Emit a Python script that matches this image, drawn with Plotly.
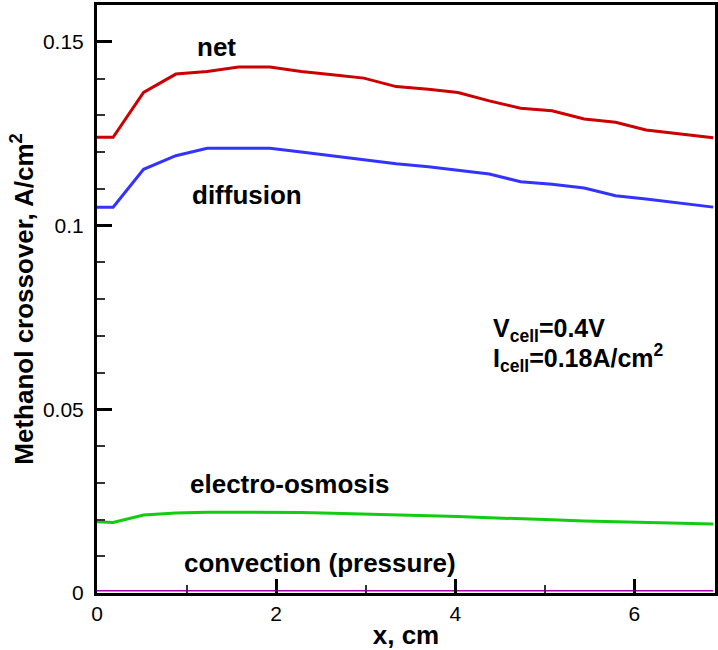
import plotly.graph_objects as go

# positions along the channel (cm)
x_cm = [0.0, 0.18, 0.52, 0.88, 1.23, 1.58, 1.93, 2.28, 2.63, 2.98, 3.34,
        3.70, 4.03, 4.38, 4.73, 5.08, 5.44, 5.79, 6.13, 6.51, 6.88]

net = [0.1240, 0.1240, 0.1362, 0.1412, 0.1419, 0.1431, 0.1431, 0.1419, 0.1410,
       0.1401, 0.1378, 0.1371, 0.1362, 0.1339, 0.1319, 0.1312, 0.1290, 0.1281,
       0.1260, 0.1249, 0.1239]

diffusion = [0.1050, 0.1050, 0.1153, 0.1190, 0.1210, 0.1210, 0.1210, 0.1200,
             0.1189, 0.1180, 0.1168, 0.1160, 0.1151, 0.1140, 0.1119, 0.1112,
             0.1102, 0.1081, 0.1072, 0.1061, 0.1050]

electro_osmosis = [0.0194, 0.0192, 0.0212, 0.0218, 0.0220, 0.0220, 0.0220,
                   0.0219, 0.0217, 0.0215, 0.0213, 0.0211, 0.0208, 0.0205,
                   0.0201, 0.0199, 0.0196, 0.0194, 0.0191, 0.0190, 0.0188]

convection = [0.0006, 0.0006, 0.0006, 0.0006, 0.0006, 0.0006, 0.0006, 0.0006,
              0.0006, 0.0006, 0.0006, 0.0006, 0.0006, 0.0006, 0.0006, 0.0006,
              0.0006, 0.0006, 0.0006, 0.0006, 0.0006]

series_names = ["net", "diffusion", "electro-osmosis", "convection (pressure)"]
series_values = [net, diffusion, electro_osmosis, convection]
series_colors = ["#cc0000", "#3333ff", "#11cc11", "#aa00aa"]
series_widths = [3, 3, 3, 1.5]

FONT = "Liberation Sans, Arial, sans-serif"

fig = go.Figure()
for name, vals, col, w in zip(series_names, series_values, series_colors, series_widths):
    fig.add_trace(go.Scatter(x=x_cm, y=vals, mode="lines", name=name,
                             line=dict(color=col, width=w), showlegend=False))

labels = [
    ("<b>net</b>", 1.333, 0.1486),
    ("<b>diffusion</b>", 1.672, 0.1083),
    ("<b>electro-osmosis</b>", 2.144, 0.0297),
    ("<b>convection (pressure)</b>", 2.494, 0.0082),
]
for txt, xx, yy in labels:
    fig.add_annotation(x=xx, y=yy, text=txt, showarrow=False, xanchor="center",
                       yanchor="middle", font=dict(family=FONT, size=26, color="black"))

fig.add_annotation(x=4.4, y=0.0716, text="<b>V<sub>cell</sub>=0.4V</b>", showarrow=False,
                   xanchor="left", yanchor="middle", font=dict(family=FONT, size=25, color="black"))
fig.add_annotation(x=4.4, y=0.0640, text="<b>I<sub>cell</sub>=0.18A/cm<sup>2</sup></b>", showarrow=False,
                   xanchor="left", yanchor="middle", font=dict(family=FONT, size=25, color="black"))

fig.update_layout(
    width=718, height=650,
    margin=dict(l=97, r=0, t=5, b=57),
    paper_bgcolor="white", plot_bgcolor="white",
    font=dict(family=FONT, color="black"),
)
fig.update_xaxes(
    range=[0, 6.9], dtick=2, tick0=0, tickmode="linear", ticks="inside", ticklen=14, tickwidth=3,
    tickcolor="black", showgrid=False, zeroline=False,
    showline=True, linecolor="black", linewidth=3, mirror=True,
    tickfont=dict(family=FONT, size=21, color="black"),
    minor=dict(dtick=1, tick0=0, tickmode="linear", ticks="inside", ticklen=8, tickwidth=2, tickcolor="#333333", showgrid=False),
    title=dict(text="<b>x, cm</b>", font=dict(family=FONT, size=26, color="black"), standoff=2),
)
fig.update_yaxes(
    range=[0, 0.16], dtick=0.05, tick0=0, tickmode="linear", ticks="inside", ticklen=15, tickwidth=3,
    tickcolor="black", showgrid=False, zeroline=False,
    showline=True, linecolor="black", linewidth=3, mirror=True,
    tickfont=dict(family=FONT, size=21, color="black"), ticklabelstandoff=6,
    minor=dict(dtick=0.01, tick0=0, tickmode="linear", ticks="inside", ticklen=8, tickwidth=2, tickcolor="#333333", showgrid=False),
    title=dict(text="<b>Methanol crossover, A/cm<sup>2</sup></b>", font=dict(family=FONT, size=26, color="black"), standoff=2),
)

fig.write_html("out.html")
